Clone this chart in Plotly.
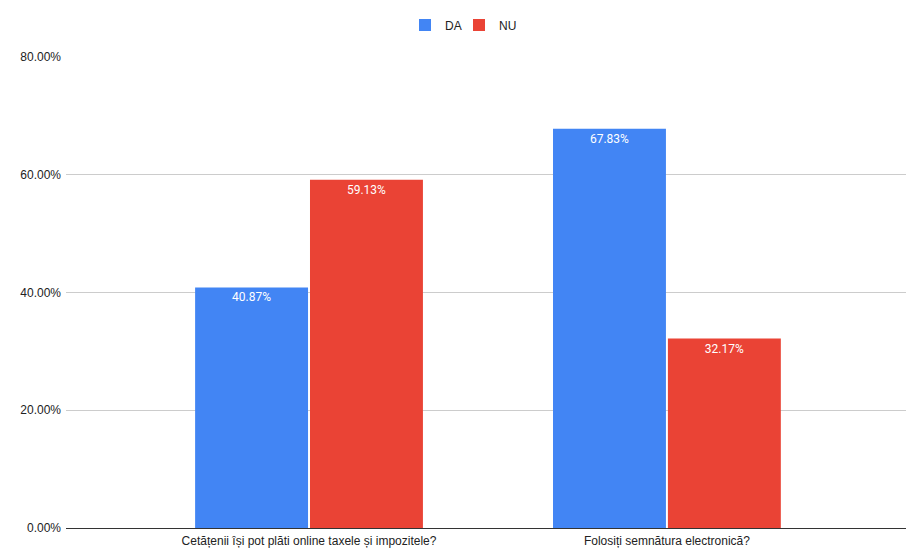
import plotly.graph_objects as go

categories = ["Cetățenii își pot plăti online taxele și impozitele?", "Folosiți semnătura electronică?"]
da_values = [40.87, 67.83]
nu_values = [59.13, 32.17]
series_names = ["DA", "NU"]
tick_vals = [0, 20, 40, 60, 80]
tick_text = ["0.00%", "20.00%", "40.00%", "60.00%", "80.00%"]

colors = ["#4285F4", "#EA4335"]
legend_ids = ["legend", "legend2"]

fig = go.Figure()
for name, vals, col, lg in zip(series_names, [da_values, nu_values], colors, legend_ids):
    fig.add_trace(go.Bar(
        x=categories, y=vals, name=name, marker_color=col,
        marker_line_width=0, legend=lg,
        text=[f"{v:.2f}%" for v in vals],
        textposition="inside", insidetextanchor="end",
        textfont=dict(color="white", size=12, family="Roboto"),
        textangle=0,
    ))

legend_style = dict(orientation="h", xref="container", xanchor="left",
                    yref="container", y=0.955, yanchor="middle",
                    font=dict(size=12, color="#222222"), itemwidth=30,
                    bgcolor="rgba(0,0,0,0)")

fig.update_layout(
    width=919, height=553,
    margin=dict(l=66, r=13, t=57, b=25),
    paper_bgcolor="white", plot_bgcolor="white",
    barmode="group", bargap=0.358, bargroupgap=0.017,
    font=dict(family="Liberation Sans, Arial, sans-serif", size=12, color="#222222"),
    legend=dict(x=405 / 919, **legend_style),
    legend2=dict(x=459 / 919, **legend_style),
    showlegend=True,
)
fig.update_xaxes(range=[-0.679, 1.668], showgrid=False, ticks="",
                 automargin=False, ticklabelstandoff=4,
                 tickfont=dict(size=12, color="#222222"))
fig.update_yaxes(range=[0, 80], tickvals=tick_vals, ticktext=tick_text,
                 showgrid=True, gridcolor="#cccccc", gridwidth=1,
                 zeroline=True, zerolinecolor="#333333", zerolinewidth=1,
                 ticks="", ticklabelstandoff=4, automargin=False,
                 tickfont=dict(size=12, color="#222222"))

fig.write_html("out.html")
